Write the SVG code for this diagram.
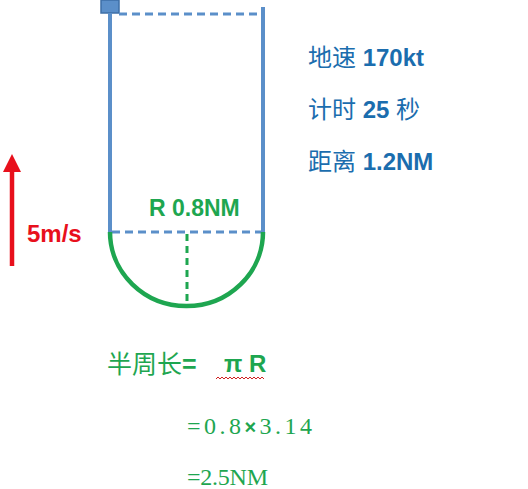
<svg xmlns="http://www.w3.org/2000/svg" width="528" height="489" viewBox="0 0 528 489">
<defs>
<style>
.blue{stroke:#5B8FC9;stroke-width:4;fill:none}
.bdash{stroke:#5B8FC9;stroke-width:3;stroke-dasharray:8,5;fill:none}
.green{stroke:#1EA650;stroke-width:4.5;fill:none}
.gdash{stroke:#1EA650;stroke-width:3;stroke-dasharray:7,5;fill:none}
.info{font-family:"Liberation Sans","Noto Sans CJK SC",sans-serif;font-size:24px;fill:#1B6DAE;font-weight:bold}
.cjk{font-weight:normal}
.gt{font-family:"Liberation Sans","Noto Sans CJK SC",sans-serif;fill:#1EA650}
.st{font-family:"Liberation Serif","Noto Serif CJK SC",serif;fill:#1EA650;font-size:24px}
</style>
<marker id="ah" markerWidth="4" markerHeight="4" refX="2" refY="2" orient="auto" markerUnits="strokeWidth">
<path d="M0,0 L4,2 L0,4 z" fill="#E8101C"/>
</marker>
</defs>
<rect width="528" height="489" fill="#fff"/>
<g id="plane">
<rect x="101" y="0" width="18" height="13" fill="#5B8FC9" stroke="#3E6FA6" stroke-width="1.5"/>
</g>
<g id="connectors">
<line class="blue" x1="110" y1="13" x2="110" y2="232"/>
<line class="blue" x1="263" y1="7" x2="263" y2="232"/>
<line class="bdash" x1="119" y1="14" x2="262" y2="14"/>
<line class="bdash" x1="112" y1="232" x2="262" y2="232"/>
<path class="green" d="M110,232 A76.5,74 0 0 0 263,232"/>
<line class="gdash" x1="187" y1="234" x2="187" y2="305"/>
<line x1="12" y1="266" x2="12" y2="163" stroke="#E8101C" stroke-width="4.5" marker-end="url(#ah)"/>
</g>
<g id="radius-label">
<text x="149" y="216" class="gt" font-size="23" font-weight="bold">R 0.8NM</text>
</g>
<g id="speed-label">
<text x="27" y="242" font-family="Liberation Sans,sans-serif" font-size="24" font-weight="bold" fill="#E8101C">5m/s</text>
</g>
<g id="info">
<text x="308" y="66" class="info"><tspan class="cjk">地速</tspan> 170kt</text>
<text x="308" y="118" class="info"><tspan class="cjk">计时</tspan> 25 <tspan class="cjk">秒</tspan></text>
<text x="308" y="170" class="info"><tspan class="cjk">距离</tspan> 1.2NM</text>
</g>
<g id="formula">
<text x="107" y="373" class="gt" font-size="25"><tspan>半周长</tspan><tspan font-weight="bold">=</tspan></text>
<text x="224" y="372" class="gt" font-size="24" font-weight="bold">π R</text>
<path d="M216,379 l2,-2 l2,2 l2,-2 l2,2 l2,-2 l2,2 l2,-2 l2,2 l2,-2 l2,2 l2,-2 l2,2 l2,-2 l2,2 l2,-2 l2,2 l2,-2 l2,2 l2,-2 l2,2 l2,-2 l2,2 l2,-2 l2,2" stroke="#D02020" stroke-width="1" fill="none"/>
<text x="187" y="434" class="st" textLength="125" lengthAdjust="spacing">=0.8<tspan font-family="Liberation Sans,sans-serif" font-weight="bold" font-size="20">×</tspan>3.14</text>
<text x="187" y="485" class="st" textLength="81" lengthAdjust="spacing">=2.5NM</text>
</g>
</svg>
